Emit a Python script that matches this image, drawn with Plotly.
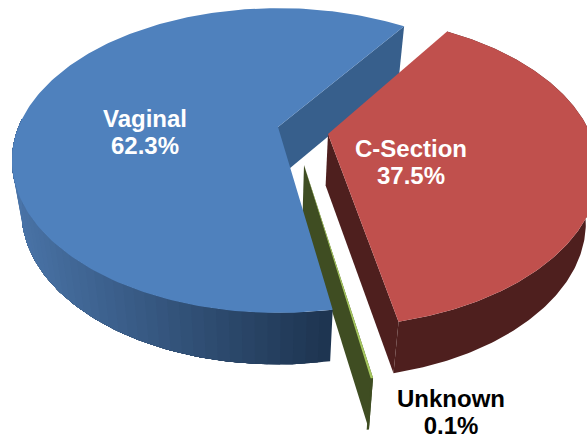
import numpy as np
import plotly.graph_objects as go

categories = ["C-Section", "Unknown", "Vaginal"]
shares = [37.5, 0.1, 62.3]
top_colors = ["#C0504D", "#A6C75F", "#4F81BD"]
inner_wall_colors = ["#4E1F1E", "#3F4D22", "#375F8C"]
wall_start = ["#4E1F1E", "#3F4D22", "#4A74A8"]
wall_end = ["#4E1F1E", "#3F4D22", "#1E3551"]

# pie geometry (screen pixels)
W, H = 587, 438
A, B = 259.5, 145.0                # disc semi-axes
START = 57.0                       # degrees, slices run clockwise
apex = {"C-Section": (328, 134), "Unknown": (304, 165), "Vaginal": (278, 127)}
scale = {"C-Section": 1.012, "Unknown": 1.17, "Vaginal": 1.0}
turn = {"C-Section": 0.0, "Unknown": -1.6, "Vaginal": -2.0}
persp = {"C-Section": 0.24, "Unknown": 0.22, "Vaginal": 0.22}
DEPTH = 51.5


def project(name, deg):
    t = np.radians(deg)
    u, v = np.cos(t), np.sin(t)
    w = 1 + persp[name] * v
    ax, ay = apex[name]
    s = scale[name]
    return ax + s * A * u / w, ay - s * B * v / w


def drop(x, y):
    return x - 0.038 * (x - 265), y + DEPTH


fig = go.Figure()


def poly(xs, ys, color):
    fig.add_trace(go.Scatter(x=list(xs), y=list(ys), mode="lines", fill="toself",
                             fillcolor=color, line=dict(color=color, width=0),
                             hoverinfo="skip", showlegend=False))


def mix(c1, c2, f):
    a = [int(c1[i:i + 2], 16) for i in (1, 3, 5)]
    b = [int(c2[i:i + 2], 16) for i in (1, 3, 5)]
    return "rgb(%d,%d,%d)" % tuple(round(p + (q - p) * f) for p, q in zip(a, b))


total = sum(shares)
bounds = {}
ang = START
for name, val in zip(categories, shares):
    sweep = val / total * 360
    bounds[name] = (ang, ang - sweep)
    ang -= sweep

for name in ["Unknown", "Vaginal", "C-Section"]:
    i = categories.index(name)
    a0, a1 = bounds[name]
    a0 += turn[name]
    a1 += turn[name]
    ax, ay = apex[name]
    # the radial wall that faces the viewer
    rx, ry = project(name, a1 if name != "Unknown" else a0)
    rbx, rby = drop(rx, ry)
    abx, aby = drop(ax, ay)
    poly([ax, rx, rbx, abx, ax], [ay, ry, rby, aby, ay], inner_wall_colors[i])

    deg = np.linspace(a0, a1, 200)
    px, py = project(name, deg)
    bx, by = drop(px, py)

    # outer wall: painted in overlapping bands so it shades without seams
    if wall_start[i] == wall_end[i]:
        poly([*px, *bx[::-1], px[0]], [*py, *by[::-1], py[0]], wall_start[i])
    else:
        keep = np.where(py >= ay - 10)[0]
        k0, k1 = keep[0], keep[-1]
        for j in range(k0, k1, 2):
            f = float(np.clip((px[j] - 12) / (331 - 12), 0, 1))
            e = k1 + 1
            poly([*px[j:e], *bx[j:e][::-1], px[j]], [*py[j:e], *by[j:e][::-1], py[j]],
                 mix(wall_start[i], wall_end[i], f))

    # top face
    poly([ax, *px, ax], [ay, *py, ay], top_colors[i])

labels = {"Vaginal": (145, 121, "white"), "C-Section": (411, 151, "white"), "Unknown": (451, 401, "black")}
for name, val in zip(categories, shares):
    lx, ly, col = labels[name]
    fig.add_trace(go.Scatter(x=[lx, lx], y=[ly, ly + 27], mode="text",
                             text=[f"<b>{name}</b>", f"<b>{val}%</b>"],
                             textposition="middle center", cliponaxis=False,
                             textfont=dict(family="Liberation Sans", size=24, color=col),
                             hoverinfo="skip", showlegend=False))

fig.update_layout(width=W, height=H, margin=dict(l=0, r=0, t=0, b=0),
                  paper_bgcolor="white", plot_bgcolor="white", showlegend=False,
                  xaxis=dict(range=[0, W], visible=False, fixedrange=True),
                  yaxis=dict(range=[H, 0], visible=False, fixedrange=True))
fig.write_html("out.html", config={"displayModeBar": False},
               post_script="document.body.style.margin='0';document.documentElement.style.overflow='hidden';")
